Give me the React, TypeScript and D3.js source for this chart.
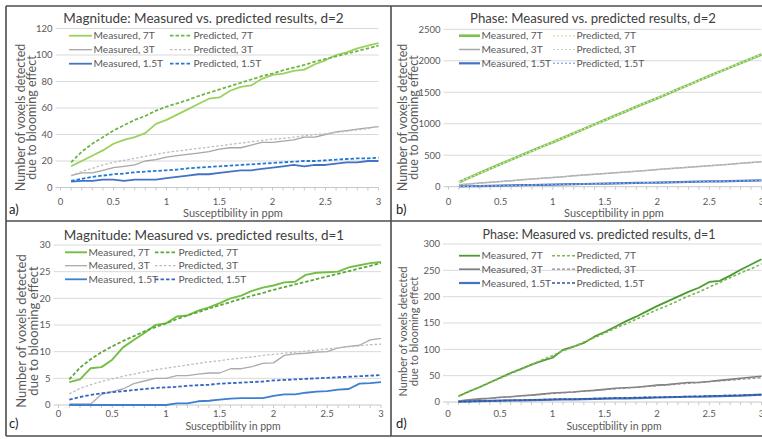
import React from 'react';
import * as d3 from 'd3';

// ---------- shared x data ----------
const SUSCEPTIBILITY = [0.1, 0.2, 0.3, 0.4, 0.5, 0.6, 0.7, 0.8, 0.9, 1.0, 1.1, 1.2, 1.3, 1.4, 1.5, 1.6, 1.7, 1.8, 1.9, 2.0, 2.1, 2.2, 2.3, 2.4, 2.5, 2.6, 2.7, 2.8, 2.9, 3.0];
const X_TICKS = [0, 0.5, 1, 1.5, 2, 2.5, 3];
const X_TICK_LABELS = ['0', '0.5', '1', '1.5', '2', '2.5', '3'];
const X_MINOR_TICKS = [0, 0.1, 0.2, 0.3, 0.4, 0.5, 0.6, 0.7, 0.8, 0.9, 1.0, 1.1, 1.2, 1.3, 1.4, 1.5, 1.6, 1.7, 1.8, 1.9, 2.0, 2.1, 2.2, 2.3, 2.4, 2.5, 2.6, 2.7, 2.8, 2.9, 3.0];
const LEGEND_LABELS = ['Measured, 7T', 'Predicted, 7T', 'Measured, 3T', 'Predicted, 3T', 'Measured, 1.5T', 'Predicted, 1.5T'];
const TITLES = [
  'Magnitude: Measured vs. predicted results, d=2',
  'Phase: Measured vs. predicted results, d=2',
  'Magnitude: Measured vs. predicted results, d=1',
  'Phase: Measured vs. predicted results, d=1',
];
const PANEL_LABELS = ['a)', 'b)', 'c)', 'd)'];
const X_TITLE = 'Susceptibility in ppm';
const Y_TITLE_1 = 'Number of voxels detected';
const Y_TITLE_2 = 'due to blooming effect';

// ---------- panel a: magnitude d=2 ----------
const A_Y_TICKS = [0, 20, 40, 60, 80, 100, 120];
const A_MEAS_7T = [16, 20, 24, 28, 33, 36, 38, 41, 48, 51, 55, 59, 63, 67, 68, 73, 76, 77, 82, 85, 86, 88, 89, 93, 96, 100, 102, 105, 107, 109];
const A_PRED_7T = [19, 27, 33, 38, 43, 47, 51, 54, 58, 61, 63.5, 66, 69, 71.5, 74, 76.5, 79, 81.5, 84, 86, 88.5, 90.5, 92.5, 95, 97, 99, 101, 103, 105, 107];
const A_MEAS_3T = [9, 11, 11, 13, 15, 16, 17, 20, 21, 23, 24, 25, 26, 27, 29, 30, 30, 32, 34, 34, 35, 36, 38, 38, 40, 42, 43, 44, 45, 46];
const A_PRED_3T = [9, 12, 14.5, 17, 19, 20.5, 22, 23.5, 25, 26.5, 27.5, 28.5, 29.5, 30.5, 31.5, 32.5, 33.5, 34.5, 35.5, 36.5, 37, 38, 39, 40, 40.5, 41.5, 42.5, 43.5, 44.5, 46];
const A_MEAS_15T = [4.5, 5, 5, 6, 6, 5, 6, 6, 6, 7, 8, 9, 10, 10, 11, 12, 13, 13, 14, 15, 16, 17, 16, 17, 17, 18, 19, 19, 20, 20];
const A_PRED_15T = [5, 6.5, 8, 9, 10, 10.5, 11.5, 12, 12.5, 13, 13.5, 14.5, 15, 15.5, 16, 16.5, 17, 17.5, 18, 18.5, 19, 19.5, 20, 20, 20.5, 21, 21.5, 22, 22, 22.5];

// ---------- panel b: phase d=2 ----------
const B_Y_TICKS = [0, 500, 1000, 1500, 2000, 2500];
const B_MEAS_7T = [70, 145, 218, 290, 360, 430, 500, 572, 640, 705, 778, 848, 918, 990, 1060, 1130, 1198, 1270, 1338, 1405, 1475, 1548, 1618, 1688, 1758, 1828, 1895, 1965, 2032, 2100];
const B_PRED_7T = [72, 143, 214, 285, 355, 426, 497, 568, 638, 708, 778, 848, 918, 988, 1058, 1128, 1198, 1268, 1338, 1408, 1478, 1547, 1617, 1687, 1757, 1826, 1896, 1965, 2035, 2104];
const B_MEAS_3T = [30, 44, 57, 70, 83, 96, 110, 122, 135, 147, 159, 172, 184, 197, 209, 222, 234, 247, 259, 272, 284, 296, 309, 321, 334, 346, 358, 371, 383, 396];
const B_PRED_3T = [28, 42, 55, 68, 81, 94, 107, 120, 133, 145, 158, 170, 183, 195, 208, 220, 233, 245, 258, 270, 283, 295, 307, 320, 332, 344, 357, 369, 381, 393];
const B_MEAS_15T = [4, 7, 10, 14, 17, 20, 24, 27, 30, 33, 37, 40, 43, 47, 50, 53, 57, 60, 63, 66, 70, 73, 76, 80, 83, 86, 90, 93, 96, 100];
const B_PRED_15T = [3, 7, 10, 13, 17, 20, 23, 27, 30, 33, 37, 40, 43, 46, 50, 53, 56, 60, 63, 66, 69, 73, 76, 79, 83, 86, 89, 92, 96, 99];

// ---------- panel c: magnitude d=1 ----------
const C_Y_TICKS = [0, 5, 10, 15, 20, 25, 30];
const C_MEAS_7T = [4.3, 4.8, 6.9, 7.1, 8.5, 10.8, 12.2, 13.5, 15.0, 15.3, 16.6, 16.8, 17.7, 18.3, 19.1, 20.0, 20.5, 21.4, 22.0, 22.4, 23.0, 23.1, 24.4, 24.8, 24.9, 25.0, 25.8, 26.2, 26.6, 26.8];
const C_PRED_7T = [4.8, 7.0, 8.6, 9.9, 11.0, 12.0, 12.9, 13.8, 14.6, 15.3, 16.1, 16.8, 17.4, 18.1, 18.7, 19.3, 19.9, 20.5, 21.0, 21.6, 22.1, 22.6, 23.1, 23.6, 24.1, 24.6, 25.1, 25.6, 26.1, 26.6];
const C_MEAS_3T = [0.2, 0.2, 0.2, 2.0, 2.5, 3.0, 4.0, 4.5, 5.0, 5.0, 5.5, 5.5, 5.8, 6.0, 6.0, 6.8, 6.8, 7.2, 7.8, 7.9, 9.3, 9.6, 9.7, 9.9, 10.0, 10.7, 11.0, 11.2, 12.2, 12.5];
const C_PRED_3T = [2.1, 3.1, 3.8, 4.4, 4.9, 5.4, 5.8, 6.2, 6.6, 6.9, 7.2, 7.5, 7.8, 8.1, 8.3, 8.6, 8.8, 9.0, 9.3, 9.5, 9.7, 9.9, 10.1, 10.3, 10.5, 10.7, 10.9, 11.1, 11.3, 11.4];
const C_MEAS_15T = [0, 0, 0, 0, 0, 0, 0, 0, 0, 0, 0.3, 0.3, 0.7, 0.8, 1.0, 1.2, 1.3, 1.3, 1.3, 1.7, 2.0, 2.0, 2.3, 2.5, 2.6, 2.9, 3.0, 4.0, 4.1, 4.3];
const C_PRED_15T = [1.0, 1.5, 1.9, 2.2, 2.4, 2.6, 2.8, 3.0, 3.2, 3.3, 3.4, 3.6, 3.7, 3.8, 4.0, 4.1, 4.2, 4.3, 4.4, 4.6, 4.7, 4.8, 4.9, 5.0, 5.1, 5.2, 5.3, 5.4, 5.5, 5.6];

// ---------- panel d: phase d=1 ----------
const D_Y_TICKS = [0, 50, 100, 150, 200, 250, 300];
const D_MEAS_7T = [11, 20, 28, 37, 46, 55, 63, 71, 78, 84, 99, 105, 112, 124, 133, 143, 153, 162, 172, 182, 191, 200, 209, 217, 228, 230, 240, 251, 261, 271];
const D_PRED_7T = [11, 20, 28, 37, 45, 54, 62, 71, 80, 88, 97, 105, 114, 122, 131, 140, 148, 157, 166, 175, 183, 192, 201, 209, 218, 227, 236, 245, 253, 262];
const D_MEAS_3T = [2, 4, 6, 7, 9, 10, 12, 13, 15, 17, 18, 19, 21, 22, 24, 26, 27, 28, 30, 32, 33, 35, 37, 37, 39, 41, 43, 45, 47, 49];
const D_PRED_3T = [2, 3.5, 5, 7, 8.5, 10, 11.5, 13, 14.5, 16, 17.5, 19, 20.5, 22, 23.5, 25, 26.5, 28, 29.5, 31, 32.5, 34, 35.5, 37, 38.5, 40, 41.5, 43, 44.5, 46];
const D_MEAS_15T = [0.5, 1, 1.5, 2, 2.5, 3, 3, 3.5, 4, 4.5, 5, 5, 5.5, 6, 6.5, 7, 7, 7.5, 8, 8.5, 9, 9.5, 10, 10, 10.5, 11, 11.5, 12, 13, 14];
const D_PRED_15T = [0.5, 1, 1.5, 2, 2.5, 3, 3.5, 4, 4.5, 5, 5, 5.5, 6, 6.5, 7, 7.5, 8, 8.5, 9, 9, 9.5, 10, 10.5, 11, 11.5, 12, 12.5, 13, 13.5, 14];

type Series = { values: number[]; color: string; width: number; dash?: string };

type PanelCfg = {
  px0: number; px1: number; py0: number; py1: number; yMax: number; yTicks: number[];
  title: string; titleX: number; titleY: number; titleSize: number;
  label: string; labelX: number; labelY: number;
  yt1: number; yt2: number; ytY: number; ytSize: number;
  xtX: number; xtY: number; xtSize: number; tickY: number;
  lc1: [number, number]; lc2: [number, number]; rows: number[];
  series: Series[];
};

const FONT = 'Lato, "Open Sans", "DejaVu Sans", sans-serif';
const TXT = '#595959';

const panels: PanelCfg[] = [
  {
    px0: 60.5, px1: 378.5, py0: 187.5, py1: 28.5, yMax: 120, yTicks: A_Y_TICKS,
    title: TITLES[0], titleX: 203.5, titleY: 22.5, titleSize: 13.5,
    label: PANEL_LABELS[0], labelX: 9, labelY: 214,
    yt1: 25, yt2: 36, ytY: 117.5, ytSize: 12.5,
    xtX: 233, xtY: 216.5, xtSize: 11, tickY: 205,
    lc1: [69, 92], lc2: [170, 192], rows: [35.7, 49.7, 63.7],
    series: [
      { values: A_MEAS_7T, color: '#9BD25E', width: 1.8 },
      { values: A_PRED_7T, color: '#6FB448', width: 1.8, dash: '3.5,2' },
      { values: A_MEAS_3T, color: '#A6A6A6', width: 1.3 },
      { values: A_PRED_3T, color: '#BDBDBD', width: 1.3, dash: '2.5,2' },
      { values: A_MEAS_15T, color: '#4472C4', width: 1.8 },
      { values: A_PRED_15T, color: '#1F7AD6', width: 1.8, dash: '3.5,2' },
    ],
  },
  {
    px0: 448.5, px1: 761.5, py0: 186.7, py1: 29.3, yMax: 2500, yTicks: B_Y_TICKS,
    title: TITLES[1], titleX: 593, titleY: 22.5, titleSize: 13.2,
    label: PANEL_LABELS[1], labelX: 396, labelY: 214,
    yt1: 407, yt2: 418, ytY: 117.5, ytSize: 12.5,
    xtX: 614, xtY: 217, xtSize: 11, tickY: 205,
    lc1: [459, 480], lc2: [553, 575], rows: [35.7, 49.5, 63.3],
    series: [
      { values: B_MEAS_7T, color: '#7DC250', width: 2.6 },
      { values: B_PRED_7T, color: '#D4EBB0', width: 1.6, dash: '2,2' },
      { values: B_MEAS_3T, color: '#A6A6A6', width: 1.5 },
      { values: B_PRED_3T, color: '#C8C8C8', width: 1.2, dash: '2,2' },
      { values: B_MEAS_15T, color: '#4472C4', width: 2.2 },
      { values: B_PRED_15T, color: '#8FB4E3', width: 1.4, dash: '2,2' },
    ],
  },
  {
    px0: 58.5, px1: 381, py0: 405, py1: 245, yMax: 30, yTicks: C_Y_TICKS,
    title: TITLES[2], titleX: 204, titleY: 239.5, titleSize: 13.5,
    label: PANEL_LABELS[2], labelX: 9, labelY: 428,
    yt1: 25.5, yt2: 37.5, ytY: 331, ytSize: 13,
    xtX: 233, xtY: 430, xtSize: 10.5, tickY: 417,
    lc1: [65, 87], lc2: [155, 177], rows: [252.3, 265.7, 279.3],
    series: [
      { values: C_MEAS_7T, color: '#72BF44', width: 1.9 },
      { values: C_PRED_7T, color: '#5DA73A', width: 1.8, dash: '3.5,2' },
      { values: C_MEAS_3T, color: '#ABABAB', width: 1.3 },
      { values: C_PRED_3T, color: '#BDBDBD', width: 1.3, dash: '2.5,2' },
      { values: C_MEAS_15T, color: '#3D7FD0', width: 1.8 },
      { values: C_PRED_15T, color: '#3566C0', width: 1.8, dash: '3.5,2' },
    ],
  },
  {
    px0: 448, px1: 761.5, py0: 402, py1: 244, yMax: 300, yTicks: D_Y_TICKS,
    title: TITLES[3], titleX: 599, titleY: 239, titleSize: 12.5,
    label: PANEL_LABELS[3], labelX: 396, labelY: 428,
    yt1: 406.6, yt2: 418, ytY: 331.5, ytSize: 11,
    xtX: 614, xtY: 430, xtSize: 10.5, tickY: 417,
    lc1: [459, 480], lc2: [552, 575], rows: [255.7, 269.2, 283],
    series: [
      { values: D_MEAS_7T, color: '#4C9A32', width: 1.8 },
      { values: D_PRED_7T, color: '#7CB955', width: 1.6, dash: '3,2' },
      { values: D_MEAS_3T, color: '#7F7F7F', width: 1.6 },
      { values: D_PRED_3T, color: '#8C8C8C', width: 1.3, dash: '3,2' },
      { values: D_MEAS_15T, color: '#4472C4', width: 2.2 },
      { values: D_PRED_15T, color: '#2F5597', width: 1.5, dash: '3,2' },
    ],
  },
];

function Panel({ cfg }: { cfg: PanelCfg }) {
  const x = d3.scaleLinear().domain([0, 3]).range([cfg.px0, cfg.px1]);
  const y = d3.scaleLinear().domain([0, cfg.yMax]).range([cfg.py0, cfg.py1]);
  const line = d3
    .line<number>()
    .x((_, i) => x(SUSCEPTIBILITY[i]))
    .y((d) => y(d));
  const fmt = d3.format('d');
  return (
    <g fontFamily={FONT}>
      {cfg.yTicks.slice(1).map((t) => (
        <line key={'g' + t} x1={cfg.px0 - 5} x2={cfg.px1} y1={y(t)} y2={y(t)} stroke="#D9D9D9" strokeWidth={1} />
      ))}
      <line x1={cfg.px0 - 5} x2={cfg.px1} y1={y(0)} y2={y(0)} stroke="#C8C8C8" strokeWidth={1} />
      {X_MINOR_TICKS.map((t) => (
        <line key={'m' + t} x1={x(t)} x2={x(t)} y1={y(0)} y2={y(0) + 3} stroke="#C8C8C8" strokeWidth={1} />
      ))}
      {cfg.yTicks.map((t) => (
        <text key={'yl' + t} x={cfg.px0 - 8} y={y(t) + 3.4} fontSize={9.5} fill={TXT} textAnchor="end">
          {fmt(t)}
        </text>
      ))}
      {X_TICKS.map((t, i) => (
        <text key={'xl' + t} x={x(t)} y={cfg.tickY} fontSize={9.5} fill={TXT} textAnchor="middle">
          {X_TICK_LABELS[i]}
        </text>
      ))}
      {cfg.series.map((s, i) => (
        <path
          key={'s' + i}
          d={line(s.values) || ''}
          fill="none"
          stroke={s.color}
          strokeWidth={s.width}
          strokeDasharray={s.dash}
          strokeLinejoin="round"
        />
      ))}
      {cfg.series.map((s, i) => {
        const col = i % 2 === 0 ? cfg.lc1 : cfg.lc2;
        const ry = cfg.rows[Math.floor(i / 2)];
        return (
          <g key={'lg' + i}>
            <line x1={col[0]} x2={col[1]} y1={ry} y2={ry} stroke={s.color} strokeWidth={s.width} strokeDasharray={s.dash} />
            <text x={col[1] + 1.5} y={ry + 3.5} fontSize={10.2} fill={TXT}>
              {LEGEND_LABELS[i]}
            </text>
          </g>
        );
      })}
      <text x={cfg.titleX} y={cfg.titleY} fontSize={cfg.titleSize} fill="#404040" textAnchor="middle">
        {cfg.title}
      </text>
      <text x={cfg.xtX} y={cfg.xtY} fontSize={cfg.xtSize} fill={TXT} textAnchor="middle">
        {X_TITLE}
      </text>
      <text transform={`translate(${cfg.yt1},${cfg.ytY}) rotate(-90)`} fontSize={cfg.ytSize} fill={TXT} textAnchor="middle">
        {Y_TITLE_1}
      </text>
      <text transform={`translate(${cfg.yt2},${cfg.ytY}) rotate(-90)`} fontSize={cfg.ytSize} fill={TXT} textAnchor="middle">
        {Y_TITLE_2}
      </text>
      <text x={cfg.labelX} y={cfg.labelY} fontSize={13} fill="#222">
        {cfg.label}
      </text>
    </g>
  );
}

export default function App() {
  return (
    <svg
      width={762}
      height={439}
      viewBox="0 0 762 439"
      style={{ position: 'absolute', left: 0, top: 0, background: '#fff' }}
    >
      <rect x={0} y={0} width={762} height={439} fill="#fff" />
      {panels.map((p, i) => (
        <Panel key={i} cfg={p} />
      ))}
      <g stroke="#4D4D4D" strokeWidth={1.6} fill="none">
        <line x1={6} x2={762} y1={6} y2={6} />
        <line x1={6} x2={6} y1={6} y2={436} />
        <line x1={6} x2={762} y1={436} y2={436} />
        <line x1={391} x2={391} y1={6} y2={436} />
        <line x1={6} x2={762} y1={221} y2={221} />
      </g>
    </svg>
  );
}
